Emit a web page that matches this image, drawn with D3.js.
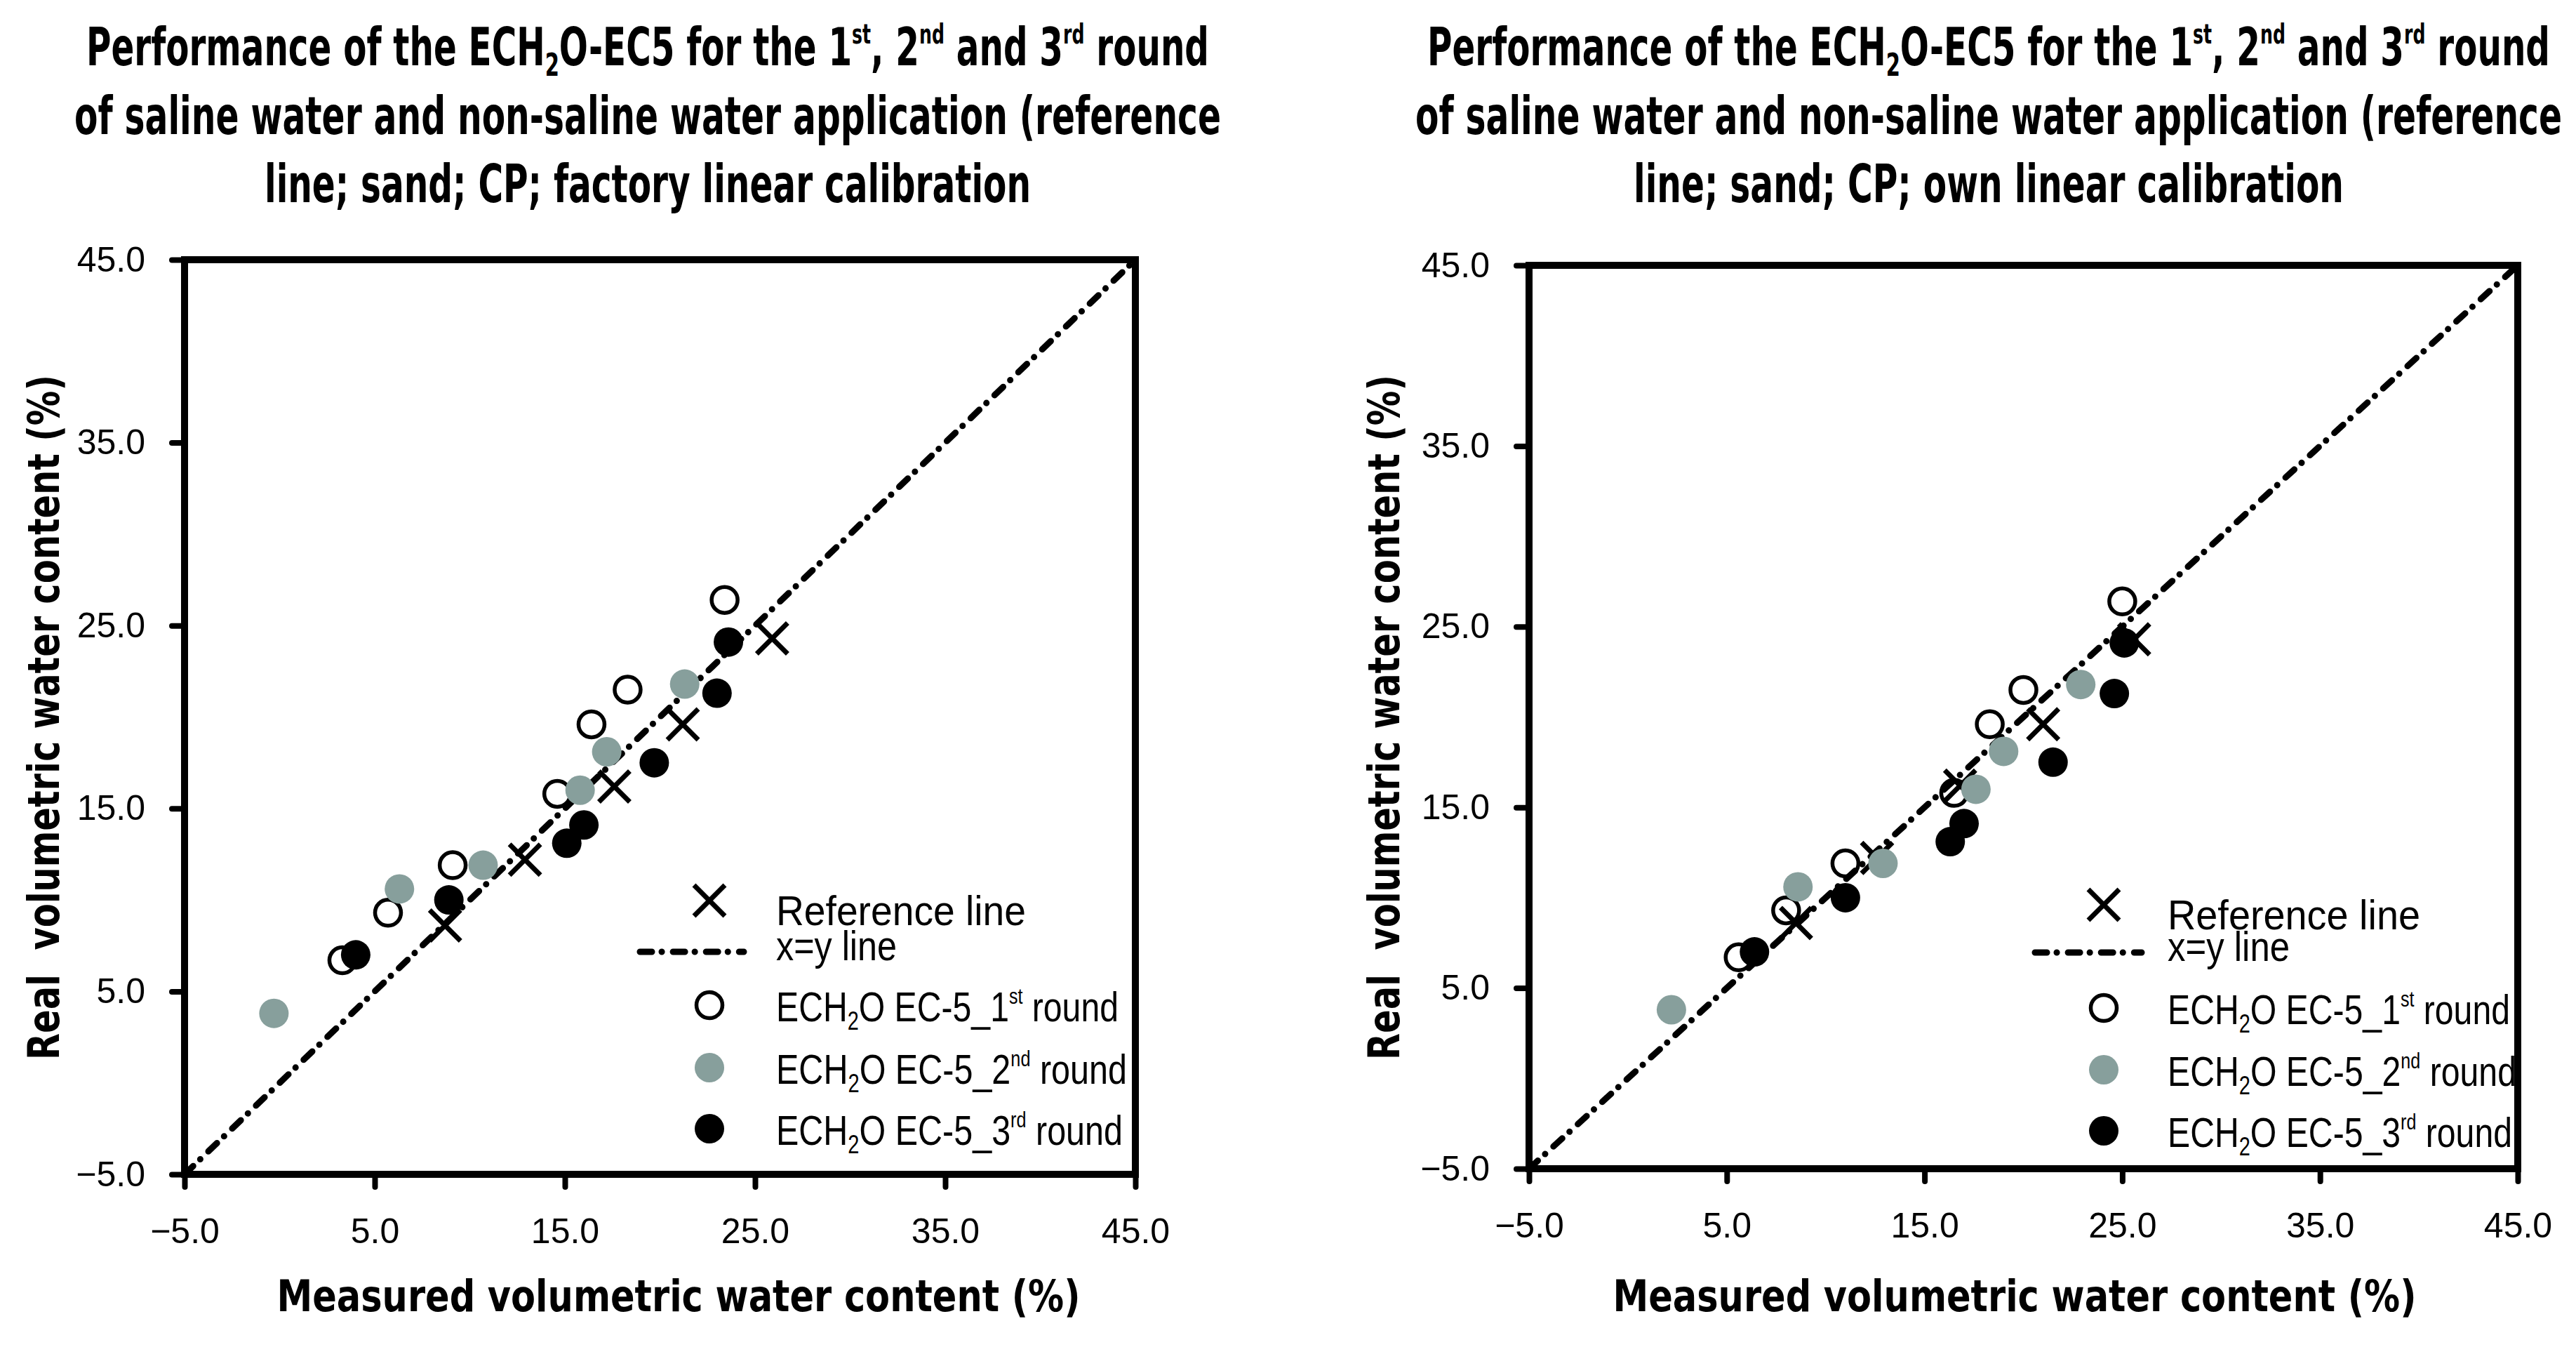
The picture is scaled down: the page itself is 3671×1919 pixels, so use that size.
<!DOCTYPE html>
<html>
<head>
    <title>ECH2O-EC5 performance</title>
    <script src="https://d3js.org/d3.v7.min.js"></script>
    <style>
        body { margin: 0; background: #fff; }
        .tick text { font-family: "Liberation Sans", Arial, sans-serif; font-size: 50px; fill: #000; }
        .tick line { stroke: #000; stroke-width: 8; stroke-linecap: round; }
        .title { font-family: "Liberation Sans Narrow", "DejaVu Sans Condensed", sans-serif; font-weight: bold; fill: #000; }
        .legend { font-family: "Liberation Sans", Arial, sans-serif; fill: #000; }
    </style>
</head>
<body>
    <script>
        // axis ticks, same on both axes of both panels
        const axisTicks = [-5, 5, 15, 25, 35, 45];
        const diagonal = [-5, 45];

        // real volumetric water content (%), shared by both panels
        const realRef = [8.6, 12.2, 16.2, 19.6, 24.3];
        const realR1 = [6.7, 9.3, 11.9, 15.8, 19.6, 21.5, 26.4];
        const realR2 = [3.8, 10.6, 11.9, 16.0, 18.1, 21.8];
        const realR3 = [7.0, 10.0, 13.1, 14.1, 17.5, 21.3, 24.1];

        // measured, factory linear calibration
        const factoryRef = [8.7, 12.9, 17.6, 21.2, 25.9];
        const factoryR1 = [3.3, 5.7, 9.1, 14.6, 16.4, 18.3, 23.4];
        const factoryR2 = [-0.3, 6.3, 10.7, 15.8, 17.2, 21.3];
        const factoryR3 = [4.0, 8.9, 15.1, 16.0, 19.7, 23.0, 23.6];

        // measured, own linear calibration
        const ownRef = [8.5, 12.6, 16.8, 21.0, 25.6];
        const ownR1 = [5.6, 8.0, 11.0, 16.5, 18.3, 20.0, 25.0];
        const ownR2 = [2.2, 8.6, 12.9, 17.6, 19.0, 22.9];
        const ownR3 = [6.4, 11.0, 16.3, 17.0, 21.5, 24.6, 25.1];

        const titleLine1 = [["Performance of the ECH"], ["2", "sub"], ["O-EC5 for the 1"], ["st", "sup"],
            [", 2"], ["nd", "sup"], [" and 3"], ["rd", "sup"], [" round"]];
        const titleLine2 = [["of saline water and non-saline water application (reference"]];
        const xTitle = "Measured volumetric water content (%)";
        const yTitle = "Real\u00a0 volumetric water content (%)";
        const legendLabels = [
            [["Reference line"]],
            [["x=y line"]],
            [["ECH"], ["2", "sub"], ["O EC-5_1"], ["st", "sup"], [" round"]],
            [["ECH"], ["2", "sub"], ["O EC-5_2"], ["nd", "sup"], [" round"]],
            [["ECH"], ["2", "sub"], ["O EC-5_3"], ["rd", "sup"], [" round"]]
        ];

        const grey = "#879f9c";

        const svg = d3.select("body").append("svg")
            .attr("width", 3671)
            .attr("height", 1919);

        // text with sub/superscript pieces
        function richText(sel, segs, fs) {
            let shift = 0;
            segs.forEach(s => {
                const mode = s[1];
                let target = 0, size = fs;
                if (mode === "sub") { target = 0.2 * fs; size = 0.6 * fs; }
                if (mode === "sup") { target = -0.42 * fs; size = 0.52 * fs; }
                sel.append("tspan")
                    .attr("dy", target - shift)
                    .attr("font-size", size)
                    .text(s[0]);
                shift = target;
            });
            return sel;
        }

        const fmt = d => (d < 0 ? "\u2212" : "") + Math.abs(d).toFixed(1);

        function xMark(g, cx, cy) {
            const s = 22;
            g.append("path")
                .attr("d", `M${cx - s},${cy - s}L${cx + s},${cy + s}M${cx - s},${cy + s}L${cx + s},${cy - s}`)
                .attr("stroke", "#000").attr("stroke-width", 7).attr("fill", "none");
        }

        function drawPanel(p) {
            const x = d3.scaleLinear().domain([-5, 45]).range([0, p.width]);
            const y = d3.scaleLinear().domain([-5, 45]).range([p.height, 0]);

            // title
            const tc = p.left + p.titleShift;
            richText(svg.append("text").attr("class", "title").attr("x", tc).attr("y", 93)
                .attr("text-anchor", "middle").attr("textLength", 1600).attr("lengthAdjust", "spacingAndGlyphs"),
                titleLine1, 75);
            richText(svg.append("text").attr("class", "title").attr("x", tc).attr("y", 191)
                .attr("text-anchor", "middle").attr("textLength", 1634).attr("lengthAdjust", "spacingAndGlyphs"),
                titleLine2, 75);
            richText(svg.append("text").attr("class", "title").attr("x", tc).attr("y", 288)
                .attr("text-anchor", "middle").attr("textLength", p.line3Len).attr("lengthAdjust", "spacingAndGlyphs"),
                [[p.line3]], 75);

            const g = svg.append("g").attr("transform", `translate(${p.left},${p.top})`);

            // axes
            const xa = g.append("g").attr("transform", `translate(0,${p.height})`)
                .call(d3.axisBottom(x).tickValues(axisTicks).tickSize(18).tickSizeOuter(0).tickPadding(44).tickFormat(fmt));
            const ya = g.append("g")
                .call(d3.axisLeft(y).tickValues(axisTicks).tickSize(18).tickSizeOuter(0).tickPadding(38).tickFormat(fmt));
            xa.select(".domain").remove();
            ya.select(".domain").remove();

            g.append("rect")
                .attr("width", p.width).attr("height", p.height)
                .attr("fill", "none").attr("stroke", "#000").attr("stroke-width", 10);

            // axis titles
            svg.append("text").attr("class", "title")
                .attr("x", p.xTitleX).attr("y", 1868)
                .attr("text-anchor", "middle").attr("font-size", 63)
                .attr("textLength", 1145).attr("lengthAdjust", "spacingAndGlyphs")
                .text(xTitle);
            svg.append("text").attr("class", "title")
                .attr("transform", `translate(${p.yTitleX},1022) rotate(-90)`)
                .attr("text-anchor", "middle").attr("font-size", 63)
                .attr("textLength", 976).attr("lengthAdjust", "spacingAndGlyphs")
                .text(yTitle);

            // reference line markers
            p.ref.forEach((m, i) => xMark(g, x(m), y(realRef[i])));

            // x=y line
            g.append("path")
                .datum(diagonal)
                .attr("d", d3.line().x(d => x(d)).y(d => y(d)))
                .attr("fill", "none").attr("stroke", "#000").attr("stroke-width", 9)
                .attr("stroke-linecap", "round").attr("stroke-dasharray", "17 14 0.1 16");

            // rounds
            g.selectAll(".r1").data(p.r1).enter().append("circle")
                .attr("cx", d => x(d)).attr("cy", (d, i) => y(realR1[i])).attr("r", 18.5)
                .attr("fill", "none").attr("stroke", "#000").attr("stroke-width", 5.5);
            g.selectAll(".r2").data(p.r2).enter().append("circle")
                .attr("cx", d => x(d)).attr("cy", (d, i) => y(realR2[i])).attr("r", 21)
                .attr("fill", grey);
            g.selectAll(".r3").data(p.r3).enter().append("circle")
                .attr("cx", d => x(d)).attr("cy", (d, i) => y(realR3[i])).attr("r", 21)
                .attr("fill", "#000");

            // legend
            const L = p.legend;
            xMark(svg, L.mx, L.rows[0]);
            svg.append("line")
                .attr("x1", L.lx1).attr("x2", L.lx2).attr("y1", L.rows[1]).attr("y2", L.rows[1])
                .attr("stroke", "#000").attr("stroke-width", 9)
                .attr("stroke-linecap", "round").attr("stroke-dasharray", "17 14 0.1 16");
            svg.append("circle").attr("cx", L.mx).attr("cy", L.rows[2]).attr("r", 18.5)
                .attr("fill", "none").attr("stroke", "#000").attr("stroke-width", 5.5);
            svg.append("circle").attr("cx", L.mx).attr("cy", L.rows[3]).attr("r", 21).attr("fill", grey);
            svg.append("circle").attr("cx", L.mx).attr("cy", L.rows[4]).attr("r", 21).attr("fill", "#000");

            const baseOff = [35, 12, 23, 23, 23];
            legendLabels.forEach((segs, i) => {
                richText(svg.append("text").attr("class", "legend")
                    .attr("x", L.tx).attr("y", L.rows[i] + baseOff[i])
                    .attr("textLength", L.widths[i]).attr("lengthAdjust", "spacingAndGlyphs"),
                    segs, 60);
            });
        }

        drawPanel({
            left: 263, top: 370, width: 1355, height: 1303,
            titleShift: 660, line3: "line; sand; CP; factory linear calibration", line3Len: 1092,
            xTitleX: 967, yTitleX: 84,
            ref: factoryRef, r1: factoryR1, r2: factoryR2, r3: factoryR3,
            legend: { mx: 1011, tx: 1106, lx1: 912, lx2: 1060,
                rows: [1283, 1356, 1432, 1521, 1608], widths: [356, 172, 488, 500, 494] }
        });

        drawPanel({
            left: 2179, top: 378, width: 1409, height: 1287,
            titleShift: 655, line3: "line; sand; CP; own linear calibration", line3Len: 1012,
            xTitleX: 2871, yTitleX: 1994,
            ref: ownRef, r1: ownR1, r2: ownR2, r3: ownR3,
            legend: { mx: 2998, tx: 3089, lx1: 2900, lx2: 3052,
                rows: [1289, 1357, 1436, 1524, 1611], widths: [360, 174, 488, 497, 491] }
        });
    </script>
</body>
</html>
